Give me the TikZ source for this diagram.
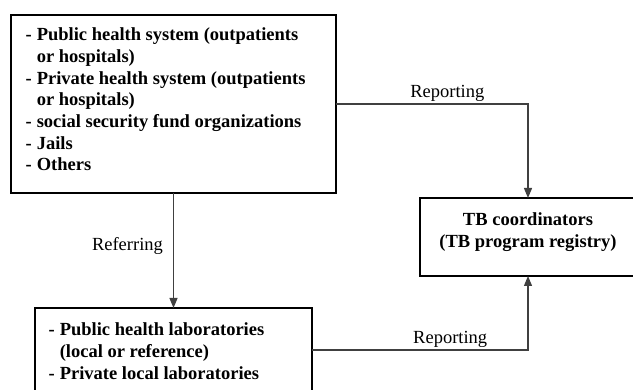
\documentclass[tikz,border=0pt]{standalone}
\usepackage{fontspec}
\setmainfont{Liberation Serif}
\usetikzlibrary{arrows.meta}

\begin{document}
\begin{tikzpicture}[x=1pt, y=-1pt, line width=1.2pt,
    box/.style={
            draw=black,
            fill=white,
            inner sep=0pt,
            outer sep=0pt,
            line width=1.2pt
          },
    list/.style={inner sep=0pt, anchor=north west, font=\bfseries\fontsize{18.5}{21.7}\selectfont},
    lbl/.style={inner sep=2pt, font=\fontsize{18.5}{21.7}\selectfont},
    flow/.style={draw=linegray, line width=1.2pt, -{Triangle[width=8pt,length=10pt]}}]
        % Define colors
        \definecolor{linegray}{RGB}{64, 64, 64}

    \useasboundingbox (0,0) rectangle (633,390);
    \clip (0,0) rectangle (633,390);

    % boxes
    \node[box, minimum width=325, minimum height=178] (src) at (173.5,104) {};
    \node[box, minimum width=277, minimum height=84] (lab) at (173.5,350) {};
    \node[box, minimum width=216, minimum height=78] (tb) at (528,237) {};

    % texts
    \node[list] (srctxt) at (25,25) {\begin{tabular}{@{}l@{\hspace{5pt}}l@{}}
        - & Public health system (outpatients\\
          & or hospitals)\\
        - & Private health system (outpatients\\
          & or hospitals)\\
        - & social security fund organizations\\
        - & Jails\\
        - & Others
    \end{tabular}};
    \node[list] (labtxt) at (48,320) {\begin{tabular}{@{}l@{\hspace{5pt}}l@{}}
        - & Public health laboratories\\
          & (local or reference)\\
        - & Private local laboratories
    \end{tabular}};
    \node[list, anchor=north] (tbtxt) at (528,210) {\begin{tabular}{@{}c@{}}
        TB coordinators\\
        (TB program registry)
    \end{tabular}};

    % arrows
    \draw[flow] (src.east) -| node[lbl, above, pos=0.29] (rep1) {Reporting} (tb.north);
    \draw[flow] (src.south) -- (src.south |- lab.north) node[lbl, left=8pt, pos=0.46] (refer) {Referring};
    \draw[flow] (lab.east) -| node[lbl, above, pos=0.32] (rep2) {Reporting} (tb.south);

\end{tikzpicture}
\end{document}
